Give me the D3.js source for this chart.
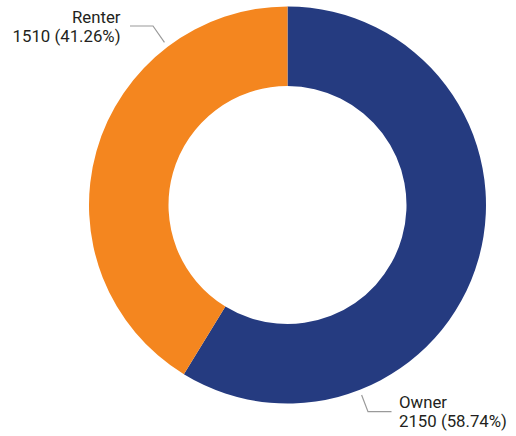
<!DOCTYPE html>
<html>
<head>
<meta charset="utf-8">
<script src="https://cdn.jsdelivr.net/npm/d3@7"></script>
<style>
  html, body { margin: 0; padding: 0; background: #fff; }
  svg { display: block; }
  .lbl { font-family: Roboto, "Liberation Sans", sans-serif; font-size: 16.8px; fill: #231f20; }
</style>
</head>
<body>
<svg id="chart" width="516" height="436"></svg>
<script>
// ── Data ──────────────────────────────────────────────────────────────────────
const categories = ['Owner', 'Renter'];
const values     = [2150, 1510];
const percents   = ['58.74%', '41.26%'];
const colors     = ['#253b80', '#f4861f'];

// ── Layout ────────────────────────────────────────────────────────────────────
const W = 516, H = 436;
const CX = 287.5, CY = 205;
const R_OUT = 198.5, R_IN = 119;

const svg = d3.select('#chart');
const g = svg.append('g').attr('transform', `translate(${CX},${CY})`);

const rows = categories.map((c, i) => ({ name: c, value: values[i], pct: percents[i], color: colors[i] }));

const pie = d3.pie().sort(null).value(d => d.value);
const arc = d3.arc().innerRadius(R_IN).outerRadius(R_OUT);
const arcs = pie(rows);

g.selectAll('path.slice')
  .data(arcs)
  .join('path')
  .attr('class', 'slice')
  .attr('d', arc)
  .attr('fill', d => d.data.color);

// ── Labels: leader lines out of the ring ──────────────────────────────────────
// angle where the leader touches the ring (radians from 12 o'clock, clockwise)
const leader = {
  Owner:  { ang: 158.7 * Math.PI / 180, elbow: [80.5, 206.7], end: [104, 206.7], side: 1 },
  Renter: { ang: -37.1 * Math.PI / 180, elbow: [-134.5, -179], end: [-157.5, -179], side: -1 }
};

arcs.forEach(a => {
  const L = leader[a.data.name];
  const r0 = 204;
  const p0 = [Math.sin(L.ang) * r0, -Math.cos(L.ang) * r0];
  g.append('polyline')
    .attr('points', [p0, L.elbow, L.end].map(p => p.join(',')).join(' '))
    .attr('fill', 'none')
    .attr('stroke', '#9a9a9a')
    .attr('stroke-width', 1.2);

  const tx = L.side > 0 ? L.end[0] + 7.5 : L.end[0] - 9.5;
  const anchor = L.side > 0 ? 'start' : 'end';
  const y1 = L.side > 0 ? 203 : -182;
  const t = g.append('text')
    .attr('class', 'lbl')
    .attr('text-anchor', anchor)
    .attr('x', tx)
    .attr('y', y1);
  t.append('tspan').attr('x', tx).text(a.data.name);
  t.append('tspan').attr('x', tx).attr('dy', 19)
    .text(`${a.data.value} (${a.data.pct})`);
});
</script>
</body>
</html>
